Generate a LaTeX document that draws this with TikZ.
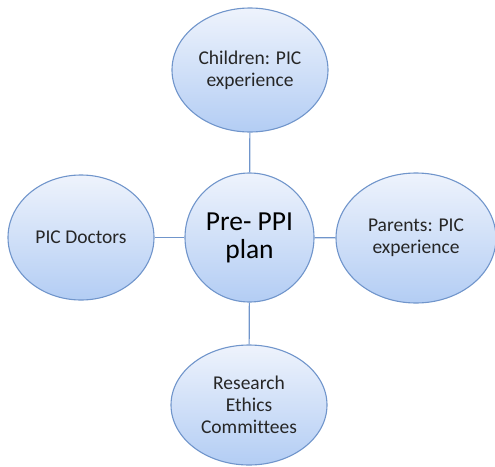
\documentclass[tikz,border=0pt]{standalone}
\usepackage{fontspec}
\setmainfont{Carlito}[Ligatures=CommonOff]
\usepackage{tikz}
\usetikzlibrary{shapes.geometric}
\usetikzlibrary{calc}

\definecolor{rim}{HTML}{7095CB}
\definecolor{filltop}{HTML}{EEF3FC}
\definecolor{fillbot}{HTML}{B3CDF4}

\begin{document}
\begin{tikzpicture}[x=1pt,y=-1pt,
	bubble/.style={ellipse, draw=rim, line width=1.1pt, top color=filltop, bottom color=fillbot, inner sep=0pt, align=center, text=black!85, font=\fontsize{19.5}{22}\selectfont},
	hub/.style={circle, draw=rim, line width=1.1pt, top color=filltop, bottom color=fillbot, inner sep=0pt, align=center, minimum size=129pt, text=black, font=\fontsize{27.5}{28}\selectfont}]
\useasboundingbox (0,0) rectangle (495,466);
%\node[hub] (plan) at (249.5,237.5) {Pre- PPI\\ plan};
\node[hub] (plan) at (249.5,237.5) {Pre- PPI\\plan};
\node[bubble, minimum width=156pt, minimum height=124pt] (child) at (250,70) {Children: PIC\\ experience};
\node[bubble, minimum width=146pt, minimum height=125pt] (doc) at (81,237.5) {PIC Doctors};
\node[bubble, minimum width=160pt, minimum height=130pt] (par) at (416,238) {Parents: PIC\\ experience};
\node[bubble, minimum width=156pt, minimum height=120pt] (eth) at (249,405) {Research\\ Ethics\\ Committees};
%\path[draw=rim,line width=1pt]
\path[draw=rim, line width=1.1pt]
(plan) edge (child)
(plan) edge (doc)
(plan) edge (par)
(plan) edge (eth)
;
\end{tikzpicture}
\end{document}
